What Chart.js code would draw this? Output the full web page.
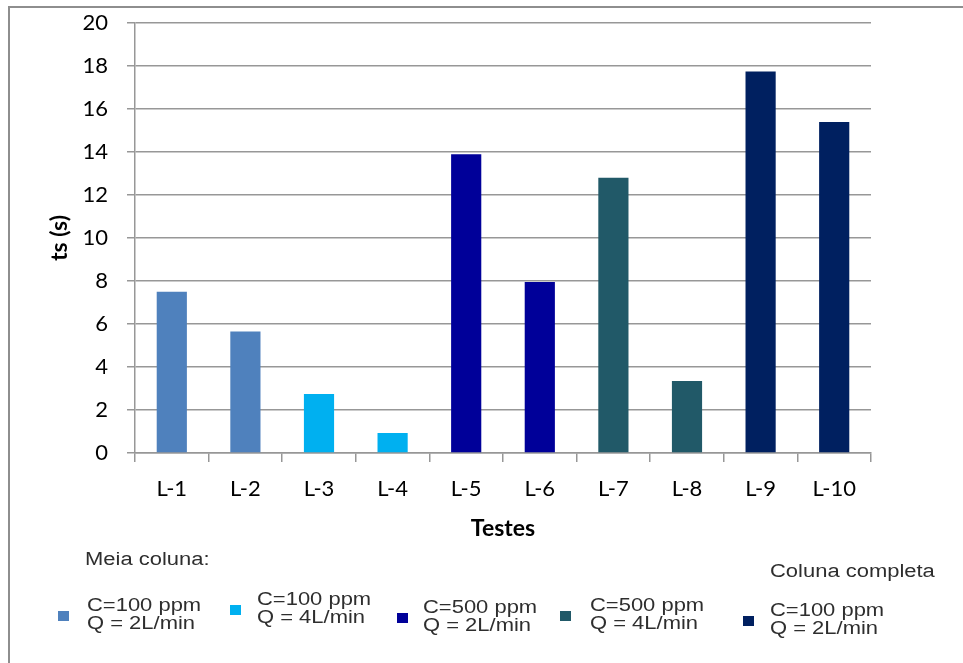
<!DOCTYPE html>
<html>
<head>
<meta charset="utf-8">
<script src="https://cdn.jsdelivr.net/npm/chart.js@4.4.1/dist/chart.umd.min.js"></script>
<style>
  html, body { margin: 0; padding: 0; background: #fff; }
  #wrap { position: relative; width: 963px; height: 663px; overflow: hidden; }
  #frame { position: absolute; left: 8px; top: 6px; right: -4px; bottom: -4px;
           border-left: 2px solid #8e8e8e; border-top: 2px solid #8e8e8e; }
  canvas { position: absolute; left: 0; top: 0; }
  .lg { position: absolute; font-family: "Liberation Sans", Arial, sans-serif; font-size: 18px;
        line-height: 18px; color: #2e2e2e; white-space: nowrap; transform: scaleX(1.22);
        transform-origin: left center; filter: blur(0.5px); }
  .sw { position: absolute; width: 11px; height: 10px; filter: blur(0.4px); }
</style>
</head>
<body>
<div id="wrap">
  <div id="frame"></div>
  <canvas id="c" width="963" height="663"></canvas>
</div>
<script>
// Test runs and settling time ts (s)
const categories = ['L-1', 'L-2', 'L-3', 'L-4', 'L-5', 'L-6', 'L-7', 'L-8', 'L-9', 'L-10'];
const tsValues   = [7.5, 5.65, 2.75, 0.93, 13.9, 7.95, 12.8, 3.35, 17.75, 15.4];
// which condition group each run belongs to
const runGroup   = [0, 0, 1, 1, 2, 2, 3, 3, 4, 4];

// condition groups (legend)
const groupLine1 = ['C=100 ppm', 'C=100 ppm', 'C=500 ppm', 'C=500 ppm', 'C=100 ppm'];
const groupLine2 = ['Q = 2L/min', 'Q = 4L/min', 'Q = 2L/min', 'Q = 4L/min', 'Q = 2L/min'];
const groupColors = ['#4F81BD', '#00B0F0', '#000099', '#215968', '#002060'];
const sectionHeadings = ['Meia coluna:', 'Coluna completa'];

const yTicks = [0, 2, 4, 6, 8, 10, 12, 14, 16, 18, 20];

const axisFont = 'Lato, "Open Sans", sans-serif';
const gridColor = '#979797';

new Chart(document.getElementById('c'), {
  type: 'bar',
  data: {
    labels: categories,
    datasets: [{
      data: tsValues,
      backgroundColor: runGroup.map(g => groupColors[g]),
      categoryPercentage: 1,
      barPercentage: 0.41
    }]
  },
  options: {
    responsive: false,
    animation: false,
    layout: { padding: { left: 0, right: 92, top: 23, bottom: 121 } },
    plugins: { legend: { display: false }, tooltip: { enabled: false } },
    scales: {
      x: {
        grid: { display: true, drawOnChartArea: false, drawTicks: true, tickLength: 9,
                color: gridColor, lineWidth: 1.5, offset: true },
        border: { display: true, color: gridColor, width: 1.5 },
        ticks: { color: '#000', font: { family: axisFont, size: 22 }, padding: 14 },
        title: { display: true, text: 'Testes', color: '#000',
                 font: { family: axisFont, size: 23, weight: 'bold' }, padding: { top: 0, bottom: 0 } },
        afterFit: s => { s.height = 89; }
      },
      y: {
        min: 0, max: 20,
        afterBuildTicks: s => { s.ticks = yTicks.map(v => ({ value: v })); },
        grid: { color: gridColor, lineWidth: 1.5, tickLength: 8 },
        border: { display: true, color: gridColor, width: 1.5 },
        ticks: { color: '#000', font: { family: axisFont, size: 22 }, padding: 19 },
        title: { display: true, text: 'ts (s)', color: '#000',
                 font: { family: axisFont, size: 23, weight: 'bold' }, padding: { top: 46, bottom: 0 } },
        afterFit: s => { s.width = 135; s.paddingTop = 12; s.paddingBottom = 12; }
      }
    }
  }
});

// Legend: section headings and one swatch + two text lines per condition group
const wrap = document.getElementById('wrap');
const headPos = [[85, 559], [770, 571]];
sectionHeadings.forEach((t, i) => {
  const d = document.createElement('div');
  d.className = 'lg';
  d.textContent = t;
  d.style.left = headPos[i][0] + 'px';
  d.style.top = (headPos[i][1] - 9) + 'px';
  wrap.appendChild(d);
});
const swatchX = [58, 230, 397, 560, 743];
const textX   = [87, 257, 423, 590, 770];
const textY   = [605, 599, 607, 605, 610];
groupColors.forEach((col, i) => {
  const s = document.createElement('div');
  s.className = 'sw';
  s.style.background = col;
  s.style.left = swatchX[i] + 'px';
  s.style.top = (textY[i] + 11 - 5) + 'px';
  wrap.appendChild(s);
  const d = document.createElement('div');
  d.className = 'lg';
  d.innerHTML = groupLine1[i] + '<br>' + groupLine2[i];
  d.style.left = textX[i] + 'px';
  d.style.top = (textY[i] - 9) + 'px';
  wrap.appendChild(d);
});
</script>
</body>
</html>
